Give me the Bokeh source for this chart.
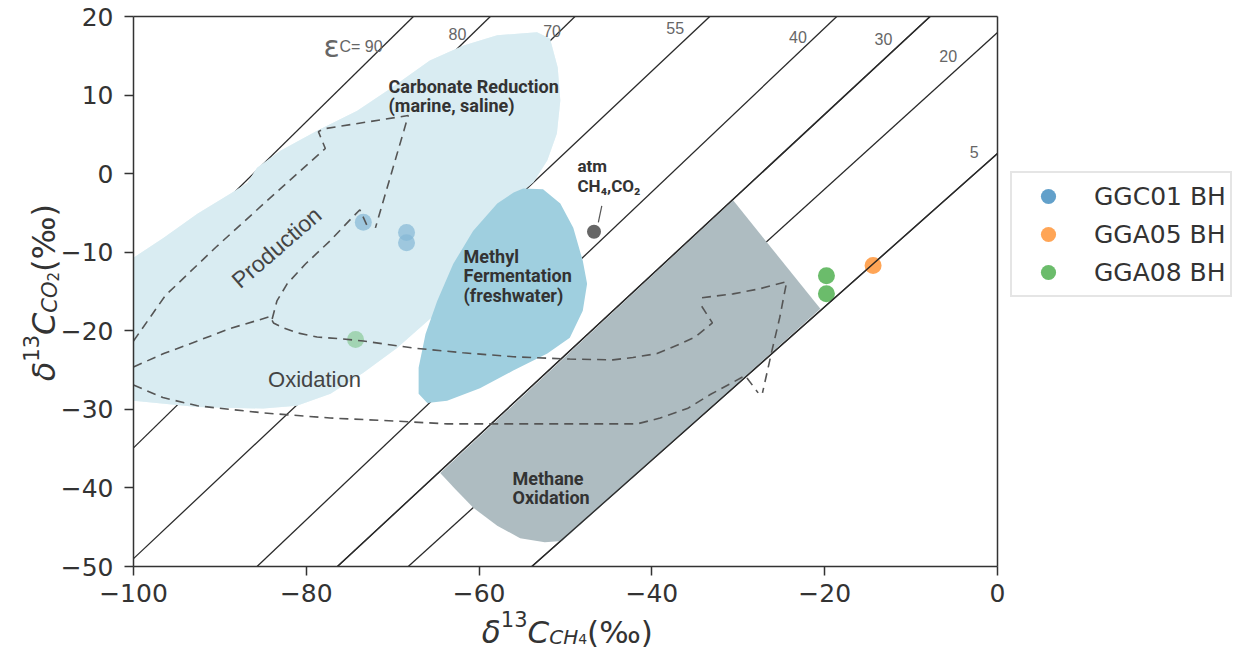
import math
from bokeh.plotting import figure
from bokeh.models import Range1d, FixedTicker, Label, Legend, LegendItem, LinearAxis
from bokeh.embed import file_html
from bokeh.resources import INLINE

# ---------------- data (delta13C, permil) ----------------
ggc01_x = [-73.4, -68.4, -68.4]
ggc01_y = [-6.2, -7.5, -8.8]
gga05_x = [-14.4]
gga05_y = [-11.7]
gga08_x = [-19.8, -19.8, -74.3]
gga08_y = [-13.0, -15.3, -21.1]
atm_x = [-46.7]
atm_y = [-7.4]
atm_leader_x = [-46.2, -45.8]
atm_leader_y = [-6.2, -4.1]

# epsilon_C fractionation lines (upper and lower end points)
eps_labels = ["90", "80", "70", "55", "40", "30", "20", "5"]
eps_x_top = [-67.6, -58.7, -48.9, -33.3, -18.6, -7.8, 0.0, 0.0]
eps_y_top = [20.0, 20.0, 20.0, 20.0, 20.0, 20.0, 17.96, 2.55]
eps_x_bot = [-100.0, -100.0, -100.0, -100.0, -85.7, -76.4, -68.2, -53.9]
eps_y_bot = [-15.0, -24.2, -34.9, -49.0, -50.0, -50.0, -50.0, -50.0]
eps_label_x = [-62.5, -51.55, -37.3, -23.1, -13.2, -5.7, -2.7]
eps_label_y = [17.8, 18.2, 18.5, 17.45, 17.1, 15.0, 2.7]
eps_on_top = ["30", "5"]

# field outlines
prod_x = [-100.0, -96.5, -92.6, -88.8, -86.8, -85.7, -83.0, -78.7, -74.1, -70.3, -65.7,
          -61.8, -57.9, -53.3, -51.8, -50.9, -50.6, -51.0, -52.1, -53.7, -57.0, -61.0,
          -64.2, -65.7, -69.5, -73.4, -77.2, -81.1, -85.0, -92.6, -100.0]
prod_y = [-10.7, -8.15, -5.1, -2.55, -1.15, 0.76, 2.9, 5.5, 8.0, 10.8, 14.4,
          16.3, 17.6, 18.0, 17.2, 13.5, 9.3, 5.1, 1.7, -1.1, -4.1, -11.1,
          -17.5, -18.5, -22.2, -25.35, -28.0, -29.55, -29.9, -29.7, -28.9]
methyl_x = [-54.9, -52.6, -50.6, -49.1, -48.0, -47.5, -48.0, -49.5, -52.1, -56.1, -59.9,
            -63.7, -66.0, -67.0, -67.0, -66.2, -64.85, -63.0, -60.7, -57.9, -56.0]
methyl_y = [-1.9, -2.0, -3.8, -6.9, -11.1, -14.0, -17.45, -20.9, -22.9, -25.1, -27.3,
            -28.9, -29.2, -28.0, -24.7, -20.4, -16.2, -11.5, -7.3, -3.8, -2.4]
mox_x = [-30.6, -20.5, -50.4, -52.4, -55.25, -57.9, -60.7, -62.8, -64.5]
mox_y = [-3.4, -17.2, -46.75, -46.9, -46.4, -44.8, -42.5, -40.1, -38.1]

# dashed pathways
path1_x = [-100.0, -96.3, -90.5, -84.8, -77.8, -78.6, -78.0, -68.2, -68.7, -72.0]
path1_y = [-21.3, -15.5, -9.4, -3.7, 3.2, 5.35, 5.7, 7.4, 5.5, -6.9]
path2_x = [-83.95, -83.4, -82.2, -80.1, -77.2, -74.7, -73.8, -72.85]
path2_y = [-18.5, -16.2, -14.0, -11.5, -8.5, -5.6, -4.6, -6.9]
path3_x = [-100.0, -96.5, -92.6, -88.8, -84.2, -83.8, -82.7, -81.1, -78.75, -76.1, -73.4,
           -67.6, -61.85, -56.05, -49.5, -44.5, -42.2, -39.4, -36.7, -35.0, -33.0, -34.4]
path3_y = [-24.6, -22.9, -21.3, -19.7, -18.2, -19.0, -19.6, -20.25, -20.8, -21.0, -21.3,
           -22.2, -22.8, -23.3, -23.6, -23.7, -23.4, -22.9, -21.65, -20.8, -19.0, -16.6]
path4_x = [-34.2, -30.6, -27.5, -24.4, -25.2, -26.1, -27.2]
path4_y = [-15.8, -15.3, -14.65, -13.75, -18.3, -22.5, -27.9]
path5_x = [-100.0, -96.6, -92.6, -85.0, -77.25, -69.5, -63.7, -57.9, -48.3, -41.7, -39.05,
           -35.9, -33.3, -29.2, -27.7]
path5_y = [-26.9, -28.5, -29.55, -30.45, -31.1, -31.5, -31.85, -31.85, -31.85, -31.85, -31.1,
           -29.9, -28.15, -25.7, -27.9]

x_lim = (-100, 0)
y_lim = (-50, 20)
x_ticks = [-100, -80, -60, -40, -20, 0]
y_ticks = [-50, -40, -30, -20, -10, 0, 10, 20]

# ---------------- layout: the plot box sits at these canvas pixels ----------------
W, H = 1241, 654
BL, BR, BT, BB = 133, 997, 16, 566
kx = (x_lim[1] - x_lim[0]) / (BR - BL)
ky = (y_lim[1] - y_lim[0]) / (BB - BT)

def sx2x(px):
    return x_lim[0] + (px - BL) * kx

def sy2y(py):
    return y_lim[1] - (py - BT) * ky

p = figure(width=W, height=H, x_range=Range1d(sx2x(0), sx2x(W)), y_range=Range1d(sy2y(H), sy2y(0)),
           output_backend="svg", toolbar_location=None, min_border=0)
p.xgrid.visible = False
p.ygrid.visible = False
p.outline_line_color = None
p.background_fill_color = "white"
p.border_fill_color = "white"

def style_axis(ax, ticks, labels=True, standoff=8):
    ax.ticker = FixedTicker(ticks=ticks)
    ax.axis_line_color = "#333333"
    ax.axis_line_width = 1.5
    ax.minor_tick_line_color = None
    if labels:
        ax.major_label_overrides = {t: (str(t).replace("-", "\u2212")) for t in ticks}
        ax.major_tick_line_color = "#333333"
        ax.major_tick_line_width = 1.5
        ax.major_tick_out = 9
        ax.major_tick_in = 0
        ax.major_label_text_font = "DejaVu Sans"
        ax.major_label_text_font_size = "25px"
        ax.major_label_text_color = "#333333"
        ax.major_label_standoff = standoff
    else:
        ax.major_tick_line_color = None
        ax.major_label_text_alpha = 0

p.xaxis.fixed_location = y_lim[0]
p.xaxis.bounds = x_lim
p.yaxis.fixed_location = x_lim[0]
p.yaxis.bounds = y_lim
style_axis(p.xaxis[0], x_ticks, standoff=8)
style_axis(p.yaxis[0], y_ticks, standoff=11)
top_ax = LinearAxis(fixed_location=y_lim[1], bounds=x_lim)
right_ax = LinearAxis(fixed_location=x_lim[1], bounds=y_lim)
style_axis(top_ax, [], labels=False)
style_axis(right_ax, [], labels=False)
p.add_layout(top_ax, "above")
p.add_layout(right_ax, "right")

# fractionation lines
p.segment(eps_x_top, eps_y_top, eps_x_bot, eps_y_bot, line_color="#2a2a2a", line_width=1.3)
# methane oxidation field
p.patch(mox_x, mox_y, fill_color="#aebcc1", line_color=None)
# carbonate-reduction / production field (opaque)
p.patch(prod_x, prod_y, fill_color="#d9ecf2", line_color=None)

# samples
r1 = p.scatter(ggc01_x, ggc01_y, size=17, marker="circle", fill_color="#1f77b4", fill_alpha=0.7, line_color=None)
r2 = p.scatter(gga05_x, gga05_y, size=17, marker="circle", fill_color="#ff7f0e", fill_alpha=0.7, line_color=None)
r3 = p.scatter(gga08_x, gga08_y, size=17, marker="circle", fill_color="#2ca02c", fill_alpha=0.7, line_color=None)

# the diagram veil over the points
p.patch(prod_x, prod_y, fill_color="#d9ecf2", fill_alpha=0.55, line_color=None)
p.patch(methyl_x, methyl_y, fill_color="#9fcfdf", line_color=None)

idx = [eps_labels.index(e) for e in eps_on_top]
p.segment([eps_x_top[i] for i in idx], [eps_y_top[i] for i in idx],
          [eps_x_bot[i] for i in idx], [eps_y_bot[i] for i in idx],
          line_color="#2a2a2a", line_width=1.3)

for xs, ys in ((path1_x, path1_y), (path2_x, path2_y), (path3_x, path3_y),
               (path4_x, path4_y), (path5_x, path5_y)):
    p.line(xs, ys, line_color="#555555", line_width=1.6, line_dash="9 6")

p.line(atm_leader_x, atm_leader_y, line_color="#555555", line_width=1.2)
p.scatter(atm_x, atm_y, size=14, marker="circle", fill_color="#666666", line_color=None)

# ---------------- texts inside the plot ----------------
def lab(x, y, text, size, color="#333333", font="Roboto", style="bold", align="left",
        baseline="middle", angle=0.0):
    p.add_layout(Label(x=x, y=y, text=text, text_font=font, text_font_size=size,
                       text_font_style=style, text_color=color, text_align=align,
                       text_baseline=baseline, angle=angle))

lab(sx2x(323), sy2y(46), "\u03b5", "30px", color="#666666", font="DejaVu Sans", style="normal",
    baseline="alphabetic")
lab(sx2x(339), sy2y(46), "C= " + eps_labels[0], "16px", color="#666666", font="Liberation Sans",
    style="normal", baseline="alphabetic")
for t, xx, yy in zip(eps_labels[1:], eps_label_x, eps_label_y):
    lab(xx, yy, t, "16px", color="#666666", font="Liberation Sans", style="normal", align="center")

lab(sx2x(388), sy2y(86), "Carbonate Reduction", "18px")
lab(sx2x(388), sy2y(105), "(marine, saline)", "18px")
lab(sx2x(463), sy2y(256), "Methyl", "18px")
lab(sx2x(463), sy2y(275), "Fermentation", "18px")
lab(sx2x(463), sy2y(295), "(freshwater)", "18px")
lab(sx2x(512), sy2y(478), "Methane", "18px")
lab(sx2x(512), sy2y(497), "Oxidation", "18px")
lab(sx2x(577), sy2y(165), "atm", "17px")
lab(sx2x(577), sy2y(185), "CH\u2084,CO\u2082", "17px")
lab(sx2x(276), sy2y(247), "Production", "23px", color="#444444", font="Liberation Sans",
    style="normal", align="center", angle=math.radians(41))
lab(sx2x(314), sy2y(379), "Oxidation", "22px", color="#444444", font="Liberation Sans",
    style="normal", align="center")

# ---------------- axis titles built from pieces ----------------
EM = {"\u03b4": 0.612, "1": 0.636, "3": 0.636, "C": 0.698, "H": 0.752, "O": 0.787,
      "4": 0.636, "2": 0.636, "(": 0.39, ")": 0.39, "\u2030": 1.35}

def tw(s, size):
    return sum(EM[c] for c in s) * size

def title(pieces, center, base, vertical):
    total = sum(tw(s, sz) for s, sz, dy, st in pieces)
    pos = center - total / 2 if not vertical else center + total / 2
    for s, sz, dy, st in pieces:
        if vertical:
            p.add_layout(Label(x=sx2x(base + dy), y=sy2y(pos), text=s, text_font="DejaVu Sans",
                               text_font_size="%dpx" % sz, text_font_style=st, text_color="#333333",
                               text_align="left", text_baseline="alphabetic", angle=math.pi / 2))
            pos -= tw(s, sz)
        else:
            p.add_layout(Label(x=sx2x(pos), y=sy2y(base + dy), text=s, text_font="DejaVu Sans",
                               text_font_size="%dpx" % sz, text_font_style=st, text_color="#333333",
                               text_align="left", text_baseline="alphabetic"))
            pos += tw(s, sz)

title([("\u03b4", 31, 0, "italic"), ("13", 21, -13, "normal"), ("C", 31, 0, "italic"),
       ("CH", 20, 5, "italic"), ("4", 14, 7, "normal"), ("(\u2030)", 31, 0, "normal")],
      567, 631, False)
title([("\u03b4", 32, 0, "italic"), ("13", 21, -13, "normal"), ("C", 32, 0, "italic"),
       ("CO", 21, 6, "italic"), ("2", 15, 9, "normal"), ("(\u2030)", 32, 0, "normal")],
      292, 43, True)

# ---------------- legend ----------------
legend = Legend(items=[LegendItem(label="GGC01 BH", renderers=[r1]),
                       LegendItem(label="GGA05 BH", renderers=[r2]),
                       LegendItem(label="GGA08 BH", renderers=[r3])],
                location=(1010, H - 297))
legend.label_text_font = "DejaVu Sans"
legend.label_text_font_size = "25px"
legend.label_text_color = "#333333"
legend.glyph_width = 64
legend.glyph_height = 38
legend.label_height = 38
legend.label_standoff = 14
legend.spacing = 0
legend.padding = 4
legend.margin = 0
legend.border_line_color = "#cccccc"
legend.border_line_width = 2
legend.background_fill_color = "white"
legend.background_fill_alpha = 1.0
p.add_layout(legend)

open("out.html", "w").write(file_html(p, INLINE))
